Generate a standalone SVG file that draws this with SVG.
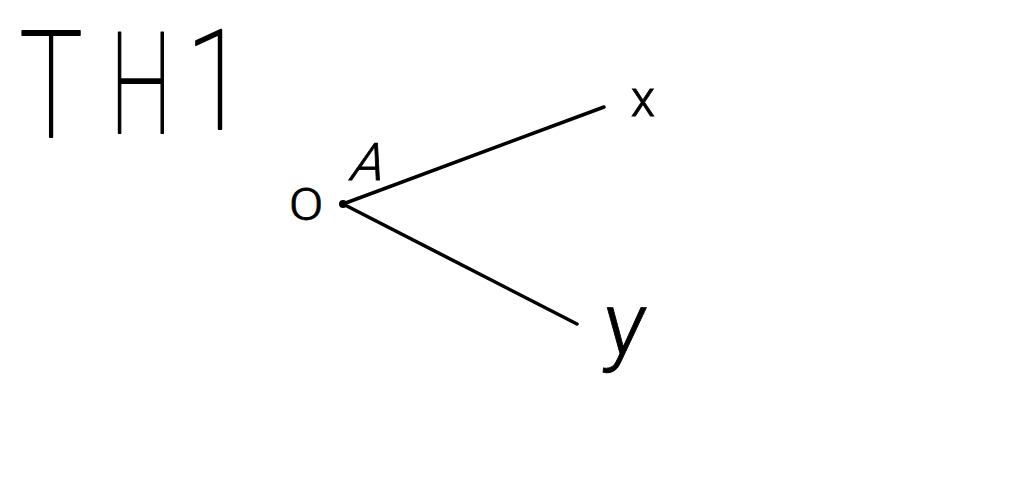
<svg xmlns="http://www.w3.org/2000/svg" width="1024" height="481" viewBox="0 0 1024 481">
<style>
.t{font-family:Roboto,"Liberation Sans",sans-serif;font-weight:100;fill:#000;text-anchor:middle}
.h{stroke:#000;stroke-width:2;stroke-linejoin:round}
.s{font-weight:300;stroke:#000;stroke-width:0.8}
.c{stroke:#000;stroke-width:3.5;stroke-linecap:round;fill:none}
</style>
<rect width="1024" height="481" fill="#fff"/>
<g id="title">
<text class="t h" transform="translate(51 137) scale(0.72 1)" font-size="148">T</text>
<text class="t h" transform="translate(141 133) scale(0.6 0.95)" font-size="148">H</text>
<text class="t h" transform="translate(216 129) scale(0.75 0.94)" font-size="148">1</text>
</g>
<g id="O"><text class="t s" transform="translate(306 220) scale(1.15 1)" font-size="44">O</text></g>
<g id="A"><text class="t s" transform="translate(364 180) skewX(-18)" font-size="52">A</text></g>
<g id="x"><text class="t s" x="643" y="116" font-size="50">x</text></g>
<g id="y"><text class="t s" transform="translate(622 354) skewX(-6)" font-size="88">y</text></g>
<g id="connectors">
<line class="c" x1="343" y1="204" x2="604" y2="107"/>
<line class="c" x1="343" y1="204" x2="577" y2="324"/>
<circle cx="343" cy="204" r="4" fill="#000"/>
</g>
</svg>
